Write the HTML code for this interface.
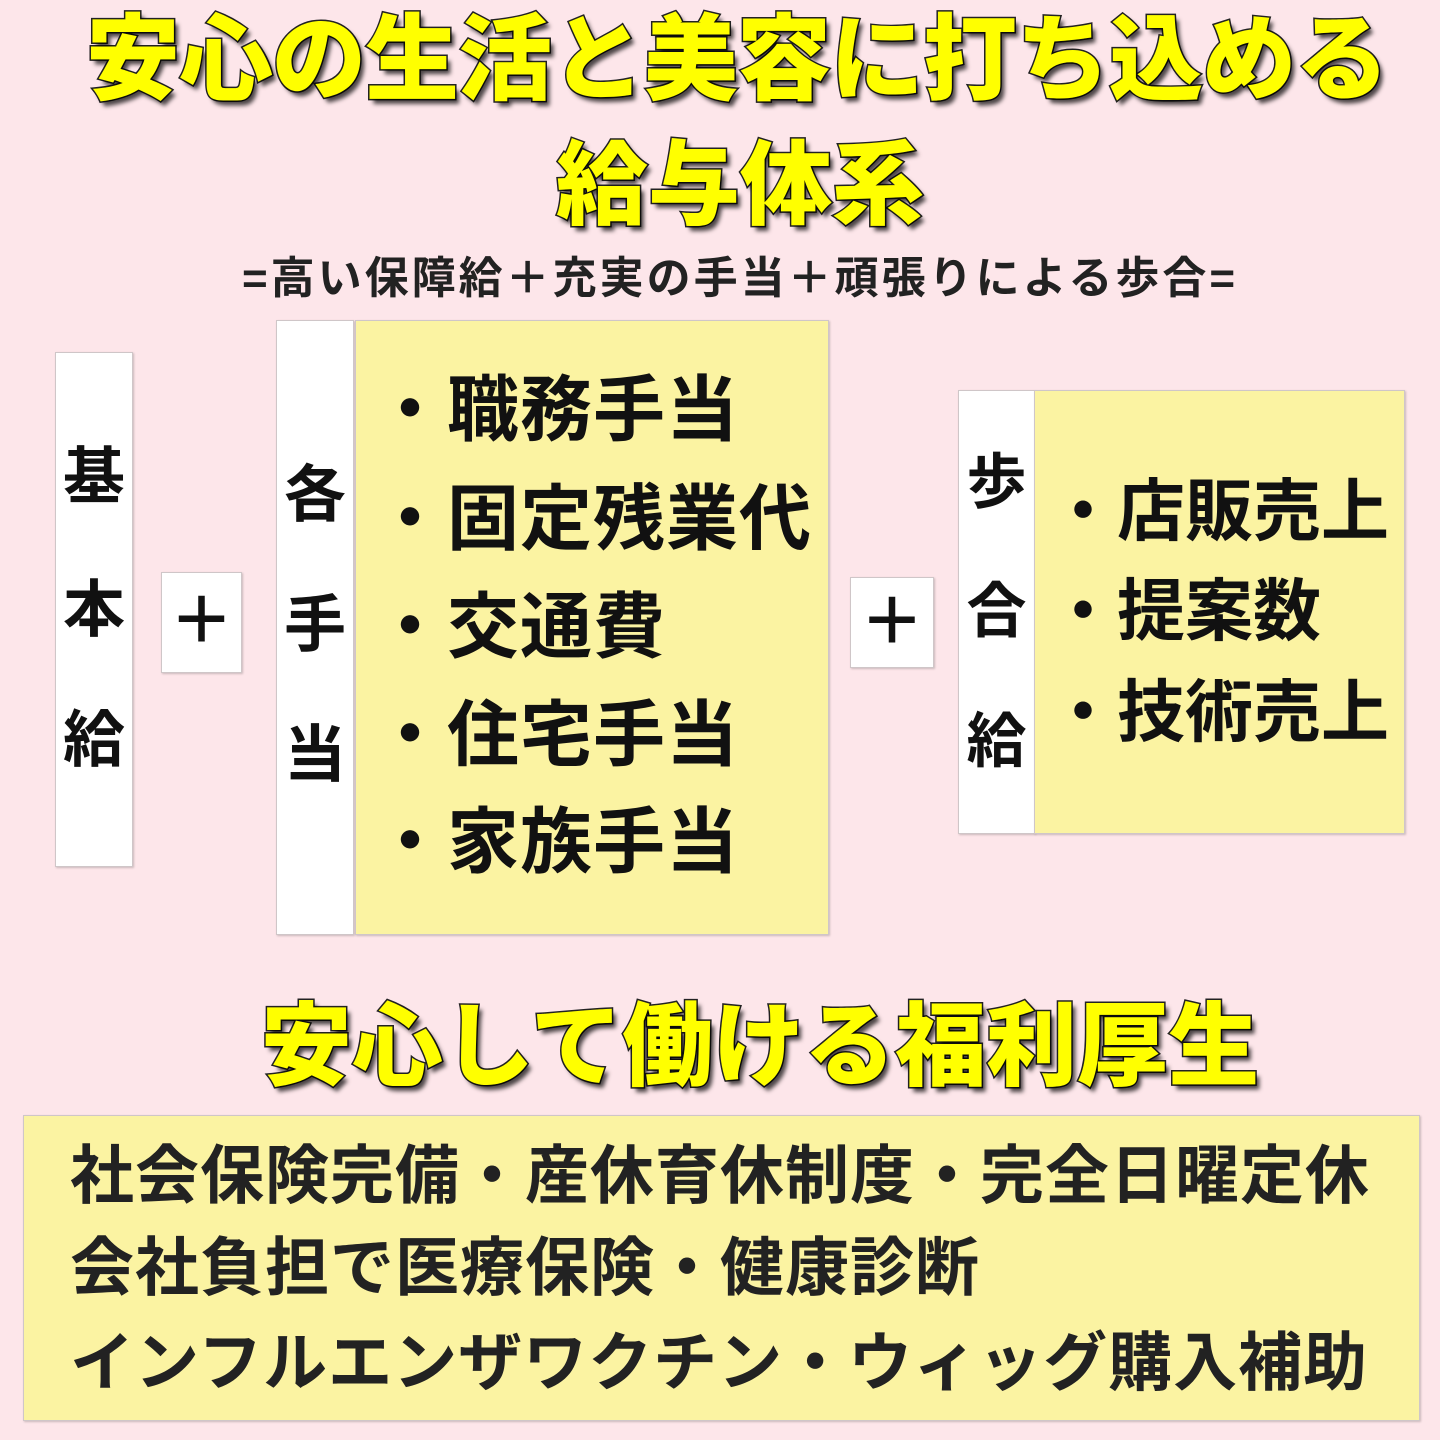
<!DOCTYPE html>
<html><head><meta charset="utf-8"><style>
body{margin:0;width:1440px;height:1440px;background:#fde6ea;position:relative;overflow:hidden;font-family:"Liberation Sans","Noto Sans CJK JP",sans-serif;font-weight:bold;color:#111}
.t{position:absolute;left:0;width:1440px;text-align:center;color:#ffff00;font-weight:900;-webkit-text-stroke:3px #222;paint-order:stroke fill;text-shadow:4px 5px 4px rgba(0,0,0,.7);white-space:nowrap;line-height:1}
.b{position:absolute;box-sizing:border-box;border:1.5px solid #cfc6c8;box-shadow:1px 1px 2px rgba(0,0,0,.2)}
.w{background:#fff}.y{background:#fbf3a2}
.c{position:absolute;left:0;width:100%;text-align:center;line-height:1}
.i{position:absolute;white-space:nowrap;line-height:1}
</style></head><body>
<div class="t" style="top:13px;left:17px;font-size:94px;letter-spacing:-1px">安心の生活と美容に打ち込める</div>
<div class="t" style="top:140px;left:20px;font-size:92px">給与体系</div>
<div style="position:absolute;top:257px;left:20px;width:1440px;text-align:center;font-size:44px;line-height:1;white-space:nowrap;color:#222;letter-spacing:3px">=高い保障給＋充実の手当＋頑張りによる歩合=</div>

<div class="b w" style="left:55px;top:352px;width:78px;height:515px;font-size:62px">
<div class="c" style="top:94px">基</div><div class="c" style="top:227px">本</div><div class="c" style="top:357px">給</div></div>
<div class="b w" style="left:161px;top:572px;width:81px;height:101px;font-size:64px"><div class="c" style="top:16px">＋</div></div>

<div class="b w" style="left:276px;top:320px;width:78px;height:615px;font-size:62px">
<div class="c" style="top:144px">各</div><div class="c" style="top:274px">手</div><div class="c" style="top:404px">当</div></div>
<div class="b y" style="left:355px;top:320px;width:474px;height:615px;font-size:72px;letter-spacing:1px">
<div class="i" style="left:18px;top:54px">・職務手当</div>
<div class="i" style="left:18px;top:163px">・固定残業代</div>
<div class="i" style="left:18px;top:271px">・交通費</div>
<div class="i" style="left:18px;top:379px">・住宅手当</div>
<div class="i" style="left:18px;top:486px">・家族手当</div></div>

<div class="b w" style="left:850px;top:577px;width:84px;height:91px;font-size:64px"><div class="c" style="top:12px">＋</div></div>

<div class="b w" style="left:958px;top:390px;width:77px;height:444px;font-size:60px">
<div class="c" style="top:62px">歩</div><div class="c" style="top:191px">合</div><div class="c" style="top:321px">給</div></div>
<div class="b y" style="left:1034px;top:390px;width:371px;height:444px;font-size:68px">
<div class="i" style="left:14px;top:87px">・店販売上</div>
<div class="i" style="left:14px;top:187px">・提案数</div>
<div class="i" style="left:14px;top:288px">・技術売上</div></div>

<div class="t" style="top:1002px;left:40px;font-size:91px">安心して働ける福利厚生</div>

<div class="b y" style="left:23px;top:1115px;width:1397px;height:306px;font-size:64px;color:#222">
<div class="i" style="left:46px;top:28px;letter-spacing:1px">社会保険完備・産休育休制度・完全日曜定休</div>
<div class="i" style="left:46px;top:120px;letter-spacing:1px">会社負担で医療保険・健康診断</div>
<div class="i" style="left:46px;top:215px;letter-spacing:1px">インフルエンザワクチン・ウィッグ購入補助</div></div>
</body></html>
